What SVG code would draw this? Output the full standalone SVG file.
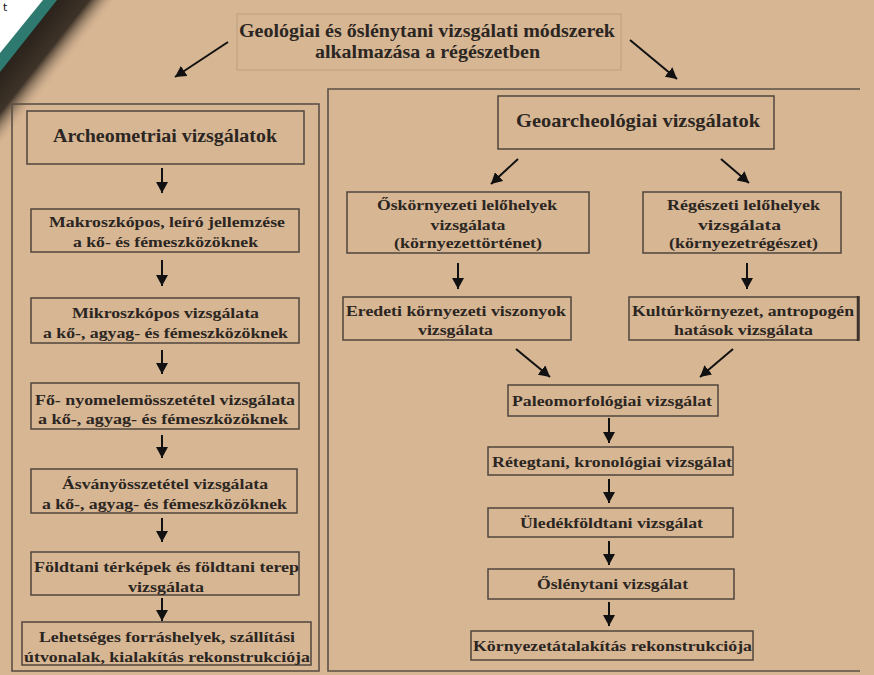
<svg xmlns="http://www.w3.org/2000/svg" width="874" height="675" viewBox="0 0 874 675">
<defs>
<style>
.bg{fill:#D7B694}
.box{fill:none;stroke:#4f463e;stroke-width:1.5}
.panel{fill:none;stroke:#5b5046;stroke-width:1.6}
.tbox{fill:none;stroke:#c2a483;stroke-width:1.2}
.lbl{font-weight:bold;fill:#2b2622;text-anchor:middle}
.s{font-size:15px}
.m{font-size:18px}
.l{font-size:19px}
.arr{stroke:#111;stroke-width:2;fill:none;marker-end:url(#ah)}
</style>
<marker id="ah" markerUnits="userSpaceOnUse" markerWidth="12" markerHeight="12" refX="11" refY="6" orient="auto">
<path d="M0,0 L11,6 L0,12 z" fill="#111"/>
</marker>
<linearGradient id="shadow" gradientUnits="userSpaceOnUse" x1="34" y1="27" x2="72" y2="57">
<stop offset="0" stop-color="#29221b" stop-opacity="1"/>
<stop offset="0.55" stop-color="#30271e" stop-opacity="0.92"/>
<stop offset="1" stop-color="#D7B694" stop-opacity="0"/>
</linearGradient>
</defs>
<rect class="bg" x="0" y="0" width="874" height="675"/>

<g id="corner">
<polygon points="0,0 150,0 0,190" fill="url(#shadow)"/>
<polygon points="0,0 57,0 0,72" fill="#2E7A70"/>
<polygon points="0,0 43,0 0,53" fill="#ffffff"/>
<text x="3" y="11" font-family="DejaVu Sans, sans-serif" font-size="11" fill="#111">t</text>
</g>

<g id="panels">
<rect class="panel" x="12" y="104" width="307" height="567"/>
<path class="panel" d="M860,89 H328 V671 H860"/>
</g>

<g font-family="Liberation Serif, Times New Roman, serif">
<g id="title">
<rect class="tbox" x="237" y="14" width="384" height="56"/>
<text class="lbl m" x="427" y="37" textLength="376" lengthAdjust="spacingAndGlyphs">Geológiai és őslénytani vizsgálati módszerek</text>
<text class="lbl m" x="427.5" y="58" textLength="225" lengthAdjust="spacingAndGlyphs">alkalmazása a régészetben</text>
</g>

<g id="archeometriai">
<rect class="box" x="27" y="111" width="277" height="53"/>
<text class="lbl m" x="165" y="142" textLength="224" lengthAdjust="spacingAndGlyphs">Archeometriai vizsgálatok</text>
</g>
<g id="makro">
<rect class="box" x="31" y="209" width="268" height="43"/>
<text class="lbl s" x="167" y="227" textLength="236" lengthAdjust="spacingAndGlyphs">Makroszkópos, leíró jellemzése</text>
<text class="lbl s" x="165.5" y="247" textLength="185" lengthAdjust="spacingAndGlyphs">a kő- és fémeszközöknek</text>
</g>
<g id="mikro">
<rect class="box" x="31" y="298" width="268" height="45"/>
<text class="lbl s" x="165.5" y="318" textLength="187" lengthAdjust="spacingAndGlyphs">Mikroszkópos vizsgálata</text>
<text class="lbl s" x="165.5" y="338" textLength="245" lengthAdjust="spacingAndGlyphs">a kő-, agyag- és fémeszközöknek</text>
</g>
<g id="fo">
<rect class="box" x="31" y="383" width="268" height="46"/>
<text class="lbl s" x="165" y="405" textLength="260" lengthAdjust="spacingAndGlyphs">Fő- nyomelemösszetétel vizsgálata</text>
<text class="lbl s" x="163" y="424" textLength="250" lengthAdjust="spacingAndGlyphs">a kő-, agyag- és fémeszközöknek</text>
</g>
<g id="asvany">
<rect class="box" x="31" y="469" width="266" height="44"/>
<text class="lbl s" x="165" y="489" textLength="206" lengthAdjust="spacingAndGlyphs">Ásványösszetétel vizsgálata</text>
<text class="lbl s" x="164.5" y="509" textLength="245" lengthAdjust="spacingAndGlyphs">a kő-, agyag- és fémeszközöknek</text>
</g>
<g id="foldtani">
<rect class="box" x="31" y="552" width="268" height="43"/>
<text class="lbl s" x="166.5" y="572" textLength="265" lengthAdjust="spacingAndGlyphs">Földtani térképek és földtani terep</text>
<text class="lbl s" x="166" y="592" textLength="76" lengthAdjust="spacingAndGlyphs">vizsgálata</text>
</g>
<g id="lehetseges">
<rect class="box" x="22" y="622" width="289" height="43"/>
<text class="lbl s" x="167" y="642" textLength="256" lengthAdjust="spacingAndGlyphs">Lehetséges forráshelyek, szállítási</text>
<text class="lbl s" x="167" y="662" textLength="286" lengthAdjust="spacingAndGlyphs">útvonalak, kialakítás rekonstrukciója</text>
</g>

<g id="geoarcheologiai">
<rect class="box" x="498" y="96" width="276" height="53"/>
<text class="lbl l" x="638" y="127" textLength="244" lengthAdjust="spacingAndGlyphs">Geoarcheológiai  vizsgálatok</text>
</g>
<g id="oskornyezeti">
<rect class="box" x="347" y="192" width="242" height="61"/>
<text class="lbl s" x="467" y="210" textLength="180" lengthAdjust="spacingAndGlyphs">Őskörnyezeti lelőhelyek</text>
<text class="lbl s" x="468" y="230" textLength="75" lengthAdjust="spacingAndGlyphs">vizsgálata</text>
<text class="lbl s" x="468" y="248" textLength="148" lengthAdjust="spacingAndGlyphs">(környezettörténet)</text>
</g>
<g id="regeszeti">
<rect class="box" x="643" y="192" width="198" height="61"/>
<text class="lbl s" x="743.5" y="210" textLength="153" lengthAdjust="spacingAndGlyphs">Régészeti lelőhelyek</text>
<text class="lbl s" x="739.5" y="230" textLength="83" lengthAdjust="spacingAndGlyphs">vizsgálata</text>
<text class="lbl s" x="743.5" y="248" textLength="149" lengthAdjust="spacingAndGlyphs">(környezetrégészet)</text>
</g>
<g id="eredeti">
<rect class="box" x="343" y="297" width="228" height="43"/>
<text class="lbl s" x="456" y="316" textLength="220" lengthAdjust="spacingAndGlyphs">Eredeti környezeti viszonyok</text>
<text class="lbl s" x="455.5" y="335" textLength="75" lengthAdjust="spacingAndGlyphs">vizsgálata</text>
</g>
<g id="kultur">
<rect class="box" x="629" y="297" width="230" height="43"/>
<line x1="858" y1="296" x2="858" y2="341" stroke="#3a322b" stroke-width="2.5"/>
<text class="lbl s" x="743" y="316" textLength="222" lengthAdjust="spacingAndGlyphs">Kultúrkörnyezet, antropogén</text>
<text class="lbl s" x="743.5" y="335" textLength="139" lengthAdjust="spacingAndGlyphs">hatások vizsgálata</text>
</g>
<g id="paleomorfologiai">
<rect class="box" x="508" y="385" width="210" height="31"/>
<text class="lbl s" x="612" y="406" textLength="200" lengthAdjust="spacingAndGlyphs">Paleomorfológiai vizsgálat</text>
</g>
<g id="retegtani">
<rect class="box" x="488" y="447" width="245" height="28"/>
<text class="lbl s" x="612" y="467" textLength="240" lengthAdjust="spacingAndGlyphs">Rétegtani, kronológiai vizsgálat</text>
</g>
<g id="uledek">
<rect class="box" x="488" y="508" width="245" height="29"/>
<text class="lbl s" x="611.5" y="528" textLength="183" lengthAdjust="spacingAndGlyphs">Üledékföldtani vizsgálat</text>
</g>
<g id="oslenytani">
<rect class="box" x="488" y="569" width="246" height="30"/>
<text class="lbl s" x="612.5" y="589" textLength="151" lengthAdjust="spacingAndGlyphs">Őslénytani vizsgálat</text>
</g>
<g id="kornyezetatalakitas">
<rect class="box" x="471" y="631" width="282" height="29"/>
<text class="lbl s" x="612.5" y="651" textLength="279" lengthAdjust="spacingAndGlyphs">Környezetátalakítás rekonstrukciója</text>
</g>
</g>

<g id="connectors">
<line class="arr" x1="228" y1="42" x2="175" y2="77"/>
<line class="arr" x1="630" y1="40" x2="677" y2="79"/>
<line class="arr" x1="162" y1="168" x2="162" y2="193"/>
<line class="arr" x1="162" y1="260" x2="162" y2="286"/>
<line class="arr" x1="162" y1="350" x2="162" y2="374"/>
<line class="arr" x1="162" y1="435" x2="162" y2="458"/>
<line class="arr" x1="162" y1="518" x2="162" y2="542"/>
<line class="arr" x1="162" y1="598" x2="162" y2="621"/>
<line class="arr" x1="518" y1="159" x2="491" y2="184"/>
<line class="arr" x1="721" y1="159" x2="749" y2="183"/>
<line class="arr" x1="458" y1="263" x2="458" y2="289"/>
<line class="arr" x1="747" y1="263" x2="747" y2="289"/>
<line class="arr" x1="516" y1="349" x2="550" y2="377"/>
<line class="arr" x1="733" y1="349" x2="700" y2="377"/>
<line class="arr" x1="609" y1="418" x2="609" y2="443"/>
<line class="arr" x1="609" y1="479" x2="609" y2="503"/>
<line class="arr" x1="609" y1="541" x2="609" y2="565"/>
<line class="arr" x1="609" y1="602" x2="609" y2="626"/>
</g>
</svg>
